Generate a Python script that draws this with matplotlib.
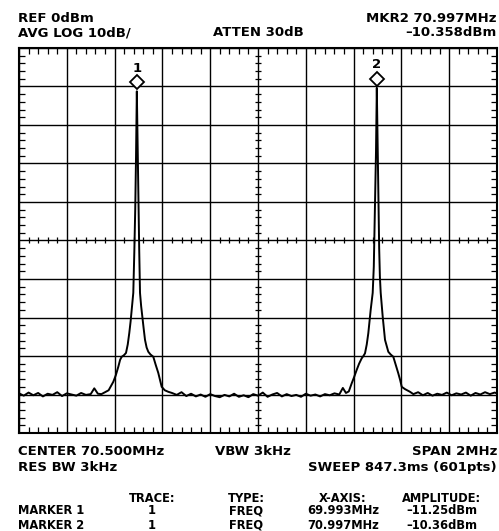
import numpy as np
import matplotlib
matplotlib.use('Agg')
import matplotlib.pyplot as plt
from matplotlib.ticker import FixedLocator
from matplotlib.transforms import offset_copy

plt.rcParams['font.family'] = ['DejaVu Sans']

# analyzer settings
center_mhz = 70.5
span_mhz = 2.0
ref_dbm = 0.0
db_per_div = 10.0

# trace, in segments
floor_left_f = [69.500, 69.520, 69.540, 69.560, 69.580, 69.600, 69.620, 69.640, 69.660, 69.680,
                69.700, 69.720, 69.740, 69.760, 69.780, 69.800, 69.815, 69.830, 69.845, 69.860, 69.875]
floor_left_db = [-89.7, -90.3, -89.5, -90.2, -89.6, -90.5, -89.8, -90.1, -89.4, -90.4,
                 -89.7, -90.0, -90.3, -89.6, -90.1, -89.9, -88.4, -89.8, -89.9, -89.4, -88.9]

peak1_f = [69.8946, 69.9050, 69.9155, 69.9230, 69.9297, 69.9390, 69.9477, 69.9550, 69.9615,
           69.9670, 69.9715, 69.9782, 69.9825, 69.9863, 69.9897, 69.9930, 69.9963, 69.9997,
           70.0030, 70.0063, 70.0110, 70.0159, 70.0215, 70.0272, 70.0340, 70.0410, 70.0500,
           70.0619, 70.0720, 70.0828, 70.0900, 70.0970, 70.1100, 70.1247]
peak1_db = [-86.7, -85.0, -82.8, -81.0, -80.2, -79.8, -79.2, -77.0, -74.0,
            -71.0, -68.0, -63.6, -53.0, -42.0, -28.0, -11.25, -25.0, -40.0,
            -52.5, -63.6, -67.0, -69.8, -72.8, -75.8, -77.8, -78.9, -79.6,
            -80.2, -82.3, -84.4, -86.2, -88.0, -88.9, -89.3]

floor_mid_f = [70.140, 70.160, 70.180, 70.200, 70.220, 70.240, 70.260, 70.280, 70.300, 70.320,
               70.340, 70.360, 70.380, 70.400, 70.420, 70.440, 70.460, 70.480, 70.500, 70.520,
               70.540, 70.560, 70.580, 70.600, 70.620, 70.640, 70.660, 70.680, 70.700, 70.720,
               70.740, 70.760, 70.780, 70.800, 70.820, 70.840, 70.855, 70.868, 70.880]
floor_mid_db = [-89.6, -90.1, -89.4, -90.4, -89.8, -90.5, -90.0, -90.6, -89.9, -90.4,
                -90.7, -90.1, -90.5, -89.8, -90.6, -90.2, -90.7, -89.9, -90.3, -89.5,
                -90.6, -90.0, -89.6, -90.5, -89.9, -90.4, -90.1, -90.6, -89.8, -90.3,
                -90.0, -90.5, -89.9, -90.2, -89.7, -90.0, -88.3, -89.6, -89.2]

peak2_f = [70.8920, 70.9020, 70.9130, 70.9230, 70.9339, 70.9410, 70.9477, 70.9550, 70.9615,
           70.9665, 70.9715, 70.9799, 70.9845, 70.9870, 70.9903, 70.9937, 70.9971, 71.0003,
           71.0037, 71.0070, 71.0100, 71.0134, 71.0218, 71.0314, 71.0452, 71.0550, 71.0661,
           71.0770, 71.0870, 71.0950, 71.1013, 71.1150, 71.1360]
peak2_db = [-87.1, -85.5, -83.6, -82.0, -80.6, -80.0, -79.3, -77.0, -74.1,
            -71.0, -68.0, -63.6, -56.8, -48.0, -38.0, -27.0, -10.36, -24.0,
            -40.0, -52.0, -59.4, -63.6, -69.8, -75.8, -78.9, -79.6, -80.2,
            -82.4, -84.5, -86.3, -88.0, -88.6, -89.3]

floor_right_f = [71.150, 71.170, 71.190, 71.210, 71.230, 71.250, 71.270, 71.290, 71.310, 71.330,
                 71.350, 71.370, 71.390, 71.410, 71.430, 71.450, 71.470, 71.490, 71.500]
floor_right_db = [-89.9, -89.4, -90.2, -89.6, -90.3, -89.8, -90.1, -89.5, -90.2, -89.7,
                  -90.0, -89.5, -90.3, -89.6, -90.0, -89.4, -89.9, -89.5, -89.7]

# marker table
marker_names = ['MARKER 1', 'MARKER 2']
marker_trace = ['1', '1']
marker_type = ['FREQ', 'FREQ']
marker_freq = [69.993, 70.997]
marker_amp = [-11.25, -10.36]
marker_xaxis = ['69.993MHz', '70.997MHz']
marker_amp_txt = ['\u201311.25dBm', '\u201310.36dBm']

W, H = 499, 531
fig = plt.figure(figsize=(W / 100, H / 100), dpi=100)
left, right, top, bottom = 19, 497, 48, 433
ax = fig.add_axes([left / W, 1 - bottom / H, (right - left) / W, (bottom - top) / H])

freq = np.concatenate([floor_left_f, peak1_f, floor_mid_f, peak2_f, floor_right_f])
level = np.concatenate([floor_left_db, peak1_db, floor_mid_db, peak2_db, floor_right_db])

f0 = center_mhz - span_mhz / 2
f1 = center_mhz + span_mhz / 2
y0 = ref_dbm - 10 * db_per_div
ax.set_xlim(f0, f1)
ax.set_ylim(y0, ref_dbm)

# 10 x 10 graticule, 5 small ticks per division
ax.xaxis.set_major_locator(FixedLocator(np.linspace(f0, f1, 11)))
ax.yaxis.set_major_locator(FixedLocator(np.linspace(y0, ref_dbm, 11)))
ax.xaxis.set_minor_locator(FixedLocator(np.linspace(f0, f1, 51)))
ax.yaxis.set_minor_locator(FixedLocator(np.linspace(y0, ref_dbm, 51)))
ax.grid(True, which='major', color='black', lw=1.0)
ax.tick_params(which='both', direction='in', top=True, right=True,
               labelbottom=False, labelleft=False, color='black')
ax.tick_params(which='major', length=0)
ax.tick_params(which='minor', length=4, width=0.9)
for s in ax.spines.values():
    s.set_linewidth(1.5)

# small ticks across the center cross
xm = ax.xaxis.get_minorticklocs()
ym = ax.yaxis.get_minorticklocs()
ymid = (y0 + ref_dbm) / 2
ax.plot(xm, np.full(len(xm), ymid), ls='none', marker='|', ms=5, mew=0.9, color='black')
ax.plot(np.full(len(ym), center_mhz), ym, ls='none', marker='_', ms=5, mew=0.9, color='black')

ax.plot(freq, level, color='black', lw=1.4)

# marker diamonds and numbers
for i, (mf, ma) in enumerate(zip(marker_freq, marker_amp)):
    tr_d = offset_copy(ax.transData, fig=fig, x=0, y=6.5, units='points')
    ax.plot([mf], [ma], marker='D', ms=7.5, mfc='white', mec='black', mew=1.3,
            transform=tr_d, clip_on=False)
    tr_t = offset_copy(ax.transData, fig=fig, x=0, y=14, units='points')
    ax.text(mf, ma, str(i + 1), transform=tr_t, ha='center', va='baseline',
            fontsize=9.5, fontweight='bold')


def put(x, y, s, ha='left', size=9.5):
    fig.text(x / W, 1 - y / H, s, ha=ha, va='baseline', fontsize=size, fontweight='bold')


put(18, 22, 'REF 0dBm')
put(18, 36, 'AVG LOG 10dB/')
put(258, 36, 'ATTEN 30dB', ha='center')
put(497, 22, 'MKR2 70.997MHz', ha='right')
put(497, 36, '\u201310.358dBm', ha='right')

put(18, 455, 'CENTER 70.500MHz')
put(18, 471, 'RES BW 3kHz')
put(215, 455, 'VBW 3kHz')
put(497, 455, 'SPAN 2MHz', ha='right')
put(497, 471, 'SWEEP 847.3ms (601pts)', ha='right')

ts = 8.3
col_x = [152, 246, 343, 442]
headers = ['TRACE:', 'TYPE:', 'X-AXIS:', 'AMPLITUDE:']
for cx, h in zip(col_x, headers):
    put(cx, 502, h, ha='center', size=ts)
for i, name in enumerate(marker_names):
    yy = 514 + i * 15
    put(18, yy, name, size=ts)
    row = [marker_trace[i], marker_type[i], marker_xaxis[i], marker_amp_txt[i]]
    for cx, v in zip(col_x, row):
        put(cx, yy, v, ha='center', size=ts)

fig.savefig('out.png', dpi=100, facecolor='white')
